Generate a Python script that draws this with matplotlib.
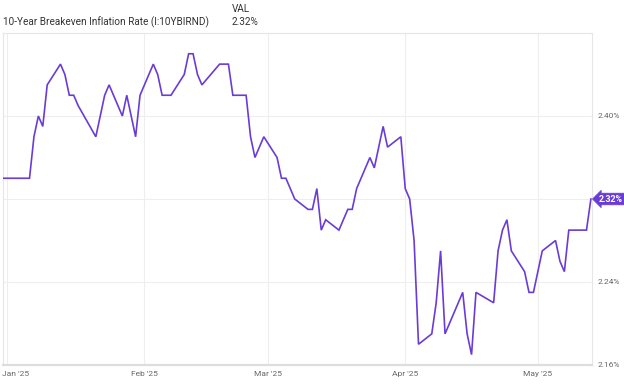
import matplotlib
matplotlib.use("Agg")
import matplotlib.pyplot as plt
import matplotlib.transforms as mtransforms
from matplotlib import font_manager
import pandas as pd

# 10-year breakeven inflation rate, daily (business days)
dates = [
    "2024-12-31", "2025-01-02", "2025-01-03", "2025-01-06", "2025-01-07", "2025-01-08",
    "2025-01-09", "2025-01-10", "2025-01-13", "2025-01-14", "2025-01-15", "2025-01-16",
    "2025-01-17", "2025-01-21", "2025-01-22", "2025-01-23", "2025-01-24", "2025-01-27",
    "2025-01-28", "2025-01-29", "2025-01-30", "2025-01-31", "2025-02-03", "2025-02-04",
    "2025-02-05", "2025-02-06", "2025-02-07", "2025-02-10", "2025-02-11", "2025-02-12",
    "2025-02-13", "2025-02-14", "2025-02-18", "2025-02-19", "2025-02-20", "2025-02-21",
    "2025-02-24", "2025-02-25", "2025-02-26", "2025-02-27", "2025-02-28", "2025-03-03",
    "2025-03-04", "2025-03-05", "2025-03-06", "2025-03-07", "2025-03-10", "2025-03-11",
    "2025-03-12", "2025-03-13", "2025-03-14", "2025-03-17", "2025-03-18", "2025-03-19",
    "2025-03-20", "2025-03-21", "2025-03-24", "2025-03-25", "2025-03-26", "2025-03-27",
    "2025-03-28", "2025-03-31", "2025-04-01", "2025-04-02", "2025-04-03", "2025-04-04",
    "2025-04-07", "2025-04-08", "2025-04-09", "2025-04-10", "2025-04-11", "2025-04-14",
    "2025-04-15", "2025-04-16", "2025-04-17", "2025-04-21", "2025-04-22", "2025-04-23",
    "2025-04-24", "2025-04-25", "2025-04-28", "2025-04-29", "2025-04-30", "2025-05-01",
    "2025-05-02", "2025-05-05", "2025-05-06", "2025-05-07", "2025-05-08", "2025-05-09",
    "2025-05-12", "2025-05-13",
]
values = [
    2.34, 2.34, 2.34, 2.34, 2.38, 2.40,
    2.39, 2.43, 2.45, 2.44, 2.42, 2.42,
    2.41, 2.38, 2.40, 2.42, 2.43, 2.40,
    2.42, 2.40, 2.38, 2.42, 2.45, 2.44,
    2.42, 2.42, 2.42, 2.44, 2.46, 2.46,
    2.44, 2.43, 2.45, 2.45, 2.45, 2.42,
    2.42, 2.38, 2.36, 2.37, 2.38, 2.36,
    2.34, 2.34, 2.33, 2.32, 2.31, 2.31,
    2.33, 2.29, 2.30, 2.29, 2.30, 2.31,
    2.31, 2.33, 2.36, 2.35, 2.37, 2.39,
    2.37, 2.38, 2.33, 2.32, 2.28, 2.18,
    2.19, 2.22, 2.27, 2.19, 2.20, 2.23,
    2.19, 2.17, 2.23, 2.22, 2.27, 2.29,
    2.30, 2.27, 2.25, 2.23, 2.23, 2.25,
    2.27, 2.28, 2.26, 2.25, 2.29, 2.29,
    2.29, 2.32,
]
y_ticks = [2.16, 2.24, 2.32, 2.40]
month_ticks = ["2025-01-01", "2025-02-01", "2025-03-01", "2025-04-01", "2025-05-01"]
month_labels = ["Jan '25", "Feb '25", "Mar '25", "Apr '25", "May '25"]
series_name = "10-Year Breakeven Inflation Rate (I:10YBIRND)"

available = {f.name for f in font_manager.fontManager.ttflist}
if "Liberation Sans Narrow" in available:
    plt.rcParams["font.family"] = ["Liberation Sans Narrow", "DejaVu Sans"]
    fs_title, fs_tick, fs_badge = 8.3, 7.0, 7.0
else:
    plt.rcParams["font.family"] = ["Roboto", "DejaVu Sans"]
    fs_title, fs_tick, fs_badge = 7.2, 6.0, 6.3

purple = "#6a3cd6"
grid_col = "#eeeeee"

x = pd.to_datetime(dates)
W, H = 624, 385
fig = plt.figure(figsize=(W / 100, H / 100), dpi=100)
ax = fig.add_axes([3 / W, 1 - 365 / H, 589 / W, 332 / H])

ax.plot(x, values, color=purple, lw=1.2, solid_joinstyle="miter", zorder=3)

ax.set_xlim(pd.Timestamp("2024-12-31"), pd.Timestamp("2025-05-13 06:00"))
ax.set_ylim(2.16, 2.48)

ax.set_xticks(pd.to_datetime(month_ticks))
ax.set_xticklabels(month_labels)
ax.set_yticks(y_ticks + [2.48])
ax.set_yticklabels([f"{v:.2f}%" for v in y_ticks] + [""])
ax.yaxis.tick_right()
ax.tick_params(axis="both", length=0, labelsize=fs_tick, colors="#666666")
ax.tick_params(axis="x", pad=4)
ax.tick_params(axis="y", pad=4)
ax.grid(True, color=grid_col, lw=0.8)
ax.set_axisbelow(True)

# first month label sits flush with the left edge
first = ax.get_xticklabels()[0]
first.set_horizontalalignment("left")
first.set_transform(first.get_transform() + mtransforms.ScaledTranslation(-5 / 100, 0, fig.dpi_scale_trans))

for side in ["left", "right", "top"]:
    ax.spines[side].set_color("#e6e6e6")
    ax.spines[side].set_linewidth(0.8)
ax.spines["bottom"].set_color("#dddddd")
ax.spines["bottom"].set_linewidth(1.6)

# last value badge
ax.annotate(f"{values[-1]:.2f}%", xy=(1.0, values[-1]), xycoords=("axes fraction", "data"),
            xytext=(4.8, 0), textcoords="offset points", ha="left", va="center",
            fontsize=fs_badge, fontweight="bold", color="white",
            bbox=dict(boxstyle="larrow,pad=0.15", fc=purple, ec=purple, lw=0.5), zorder=5,
            annotation_clip=False)

# header
fig.text(232 / W, 1 - 9 / H, "VAL", fontsize=fs_title, color="#333333", va="center", ha="left")
fig.text(3 / W, 1 - 22 / H, series_name, fontsize=fs_title, color="#333333", va="center", ha="left")
fig.text(232 / W, 1 - 22 / H, f"{values[-1]:.2f}%", fontsize=fs_title, color="#333333",
         va="center", ha="left")

fig.savefig("out.png", dpi=100)
